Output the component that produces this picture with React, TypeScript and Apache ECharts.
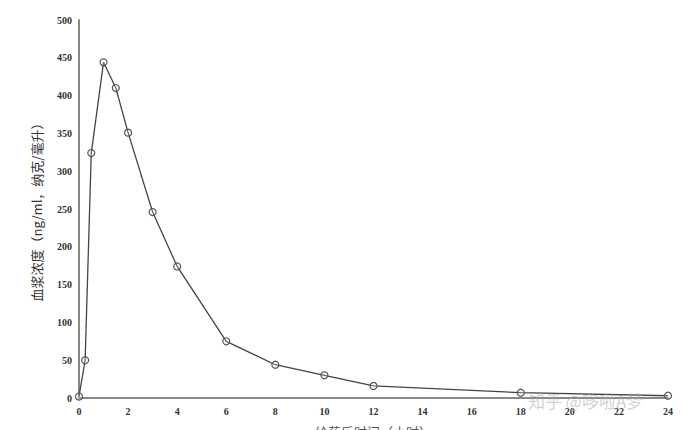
import React, { useEffect, useRef } from "react";
import * as echarts from "echarts";

const hours = [0, 0.25, 0.5, 1, 1.5, 2, 3, 4, 6, 8, 10, 12, 18, 24];
const concentration = [2, 50, 324, 444, 410, 351, 246, 174, 75, 44, 30, 16, 7, 3];
const yAxisName = "血浆浓度（ng/ml，纳克/毫升）";
const xAxisName = "给药后时间（小时）";
const watermark = "知乎 @哆啦A梦";

export default function App() {
  const ref = useRef<HTMLDivElement>(null);
  useEffect(() => {
    if (!ref.current) return;
    const chart = echarts.init(ref.current, undefined, { renderer: "svg" });
    const labelStyle = {
      color: "#333",
      fontSize: 10,
      fontFamily: "Liberation Sans Narrow",
      fontWeight: "bold" as const,
    };
    chart.setOption({
      animation: false,
      backgroundColor: "#fff",
      grid: { left: 79, right: 16, top: 20, bottom: 32, outerBoundsMode: "none", containLabel: false },
      xAxis: {
        type: "value",
        min: 0,
        max: 24,
        interval: 2,
        name: xAxisName,
        nameLocation: "middle",
        nameGap: 27,
        nameTextStyle: { color: "#555", fontSize: 13, fontFamily: "Noto Sans CJK SC" },
        axisLine: { lineStyle: { color: "#888", width: 2 } },
        axisTick: { show: false },
        splitLine: { show: false },
        axisLabel: { ...labelStyle, margin: 8 },
      },
      yAxis: {
        type: "value",
        min: 0,
        max: 500,
        interval: 50,
        name: yAxisName,
        nameLocation: "middle",
        nameGap: 36,
        nameRotate: 90,
        nameTextStyle: { color: "#333", fontSize: 13, fontFamily: "Noto Sans CJK SC" },
        axisLine: { show: true, lineStyle: { color: "#888", width: 2 } },
        axisTick: { show: false },
        splitLine: { show: false },
        axisLabel: { ...labelStyle, margin: 7 },
      },
      graphic: [
        {
          type: "text",
          left: 528,
          top: 392,
          style: {
            text: watermark,
            fontSize: 17,
            fontFamily: "Noto Sans CJK SC",
            fill: "rgba(170,170,170,0.55)",
          },
          z: 100,
        },
      ],
      series: [
        {
          type: "line",
          data: hours.map((h, i) => [h, concentration[i]]),
          symbol: "circle",
          symbolSize: 7,
          lineStyle: { color: "#444", width: 1.3 },
          itemStyle: { color: "rgba(255,255,255,0.2)", borderColor: "#555", borderWidth: 1.2 },
        },
      ],
    });
    return () => chart.dispose();
  }, []);
  return (
    <div
      ref={ref}
      style={{ position: "absolute", left: 0, top: 0, width: 684, height: 430 }}
    />
  );
}
